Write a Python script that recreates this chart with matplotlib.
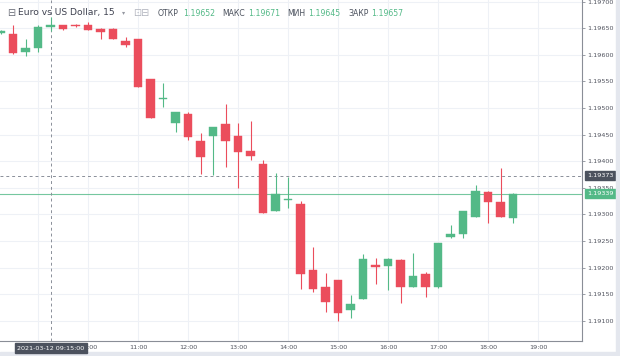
import matplotlib
matplotlib.use("Agg")
import matplotlib.pyplot as plt
from matplotlib.patches import Rectangle

times = ["08:15", "08:30", "08:45", "09:00", "09:15", "09:30", "09:45", "10:00", "10:15", "10:30",
         "10:45", "11:00", "11:15", "11:30", "11:45", "12:00", "12:15", "12:30", "12:45", "13:00",
         "13:15", "13:30", "13:45", "14:00", "14:15", "14:30", "14:45", "15:00", "15:15", "15:30",
         "15:45", "16:00", "16:15", "16:30", "16:45", "17:00", "17:15", "17:30", "17:45", "18:00",
         "18:15", "18:30"]
opens = [1.19641, 1.19639, 1.19605, 1.19613, 1.19652, 1.19656, 1.19656, 1.19656, 1.19649, 1.19649,
         1.19626, 1.19630, 1.19555, 1.19517, 1.19472, 1.19489, 1.19438, 1.19447, 1.19470, 1.19447,
         1.19419, 1.19395, 1.19307, 1.19327, 1.19320, 1.19196, 1.19164, 1.19177, 1.19120, 1.19141,
         1.19205, 1.19203, 1.19214, 1.19164, 1.19188, 1.19164, 1.19258, 1.19263, 1.19295, 1.19342,
         1.19323, 1.19293]
highs = [1.19646, 1.19656, 1.19630, 1.19656, 1.19671, 1.19657, 1.19658, 1.19662, 1.19650, 1.19651,
         1.19634, 1.19630, 1.19555, 1.19548, 1.19493, 1.19493, 1.19453, 1.19465, 1.19508, 1.19472,
         1.19476, 1.19402, 1.19378, 1.19370, 1.19325, 1.19239, 1.19190, 1.19177, 1.19149, 1.19226,
         1.19218, 1.19218, 1.19216, 1.19227, 1.19192, 1.19246, 1.19280, 1.19307, 1.19356, 1.19344,
         1.19387, 1.19340]
lows = [1.19640, 1.19602, 1.19598, 1.19605, 1.19645, 1.19647, 1.19652, 1.19647, 1.19630, 1.19629,
        1.19615, 1.19540, 1.19481, 1.19503, 1.19455, 1.19440, 1.19376, 1.19374, 1.19389, 1.19350,
        1.19402, 1.19303, 1.19307, 1.19312, 1.19160, 1.19154, 1.19117, 1.19100, 1.19105, 1.19141,
        1.19169, 1.19158, 1.19134, 1.19164, 1.19145, 1.19162, 1.19256, 1.19256, 1.19295, 1.19284,
        1.19295, 1.19284]
closes = [1.19645, 1.19604, 1.19613, 1.19652, 1.19657, 1.19649, 1.19654, 1.19647, 1.19643, 1.19630,
          1.19619, 1.19540, 1.19481, 1.19519, 1.19493, 1.19446, 1.19408, 1.19464, 1.19438, 1.19417,
          1.19410, 1.19303, 1.19339, 1.19328, 1.19188, 1.19160, 1.19136, 1.19115, 1.19132, 1.19216,
          1.19201, 1.19216, 1.19164, 1.19184, 1.19164, 1.19246, 1.19263, 1.19307, 1.19344, 1.19323,
          1.19295, 1.19339]

grid_hours = ["09:00", "10:00", "11:00", "12:00", "13:00", "14:00", "15:00", "16:00", "17:00", "18:00", "19:00"]
hour_labels = ["10:00", "11:00", "12:00", "13:00", "14:00", "15:00", "16:00", "17:00", "18:00", "19:00"]
price_ticks = [1.19100, 1.19150, 1.19200, 1.19250, 1.19300, 1.19350, 1.19400, 1.19450,
               1.19500, 1.19550, 1.19600, 1.19650, 1.19700]
last_price = 1.19339
cross_price = 1.19373
cross_time = "09:15"
cross_stamp = "2021-03-12 09:15:00"
title = "Euro vs US Dollar, 15"
ohlc_names = ["ОТКР", "МАКС", "МИН", "ЗАКР"]
ohlc_values = ["1.19652", "1.19671", "1.19645", "1.19657"]

GREEN = "#53b987"
RED = "#eb4d5c"
GRID = "#eef1f6"
TXT = "#50535e"

W, H = 620, 356
fig = plt.figure(figsize=(6.2, 3.56), dpi=100)
fig.patch.set_facecolor("white")

# grey frame strips at right and bottom
fig.patches.append(Rectangle((616 / W, 0), 4 / W, 1, transform=fig.transFigure, color="#e4e7ee", zorder=0))
fig.patches.append(Rectangle((0, 0), 1, 4 / H, transform=fig.transFigure, color="#e4e7ee", zorder=0))

ax_right = 582
ax_bottom = 341
ax = fig.add_axes([0, (H - ax_bottom) / H, ax_right / W, ax_bottom / H])

def tidx(t):
    h, m = t.split(":")
    return (int(h) * 60 + int(m) - (8 * 60 + 15)) / 15.0

xs = [tidx(t) for t in times]
bw = 0.68
for x, o, h, l, c in zip(xs, opens, highs, lows, closes):
    col = GREEN if c >= o else RED
    ax.vlines(x, l, h, color=col, lw=0.8, zorder=3)
    bot = min(o, c)
    hgt = max(abs(c - o), 0.000012)
    ax.add_patch(Rectangle((x - bw / 2, bot), bw, hgt, facecolor=col, edgecolor=col, lw=0.3, zorder=4))

ax.set_xlim(-0.05, 46.5)
ax.set_ylim(1.190622, 1.197032)

for hx in [tidx(t) for t in grid_hours]:
    ax.axvline(hx, color=GRID, lw=0.8, zorder=0)
for p in price_ticks:
    ax.axhline(p, color=GRID, lw=0.8, zorder=0)

# last price line
ax.axhline(last_price, color=GREEN, lw=0.8, alpha=0.8, zorder=2)
# crosshair
ax.axhline(cross_price, color="#8a8f99", lw=0.7, ls=(0, (3, 3)), zorder=2)
ax.axvline(tidx(cross_time), color="#8a8f99", lw=0.7, ls=(0, (3, 3)), zorder=2)

for s in ["top", "left"]:
    ax.spines[s].set_visible(False)
ax.spines["right"].set_color("#8a8e97")
ax.spines["bottom"].set_color("#8a8e97")
ax.spines["right"].set_linewidth(0.8)
ax.spines["bottom"].set_linewidth(0.8)

ax.yaxis.tick_right()
ax.set_yticks(price_ticks)
ax.set_yticklabels([f"{p:.5f}" for p in price_ticks], fontsize=4.6, color=TXT)
ax.tick_params(axis="y", length=2.5, width=0.6, color="#8a8e97", pad=1.5)
ax.set_xticks([tidx(t) for t in hour_labels])
ax.set_xticklabels(hour_labels, fontsize=4.6, color=TXT)
ax.tick_params(axis="x", length=0, pad=3)

# price boxes on axis
def price_box(price, fc):
    ax.annotate(f"{price:.5f}", xy=(1.0, price), xycoords=("axes fraction", "data"),
                xytext=(3.5, 0), textcoords="offset points", ha="left", va="center",
                fontsize=4.6, color="white", zorder=10, annotation_clip=False,
                bbox=dict(boxstyle="square,pad=0.35", fc=fc, ec=fc))

price_box(cross_price, "#4c525e")
price_box(last_price, GREEN)

# time stamp box
fig.text(51 / W, 1 - 348 / H, cross_stamp, fontsize=4.6, color="white", ha="center", va="center",
         zorder=10, bbox=dict(boxstyle="square,pad=0.35", fc="#4c525e", ec="#4c525e"))

# header
hy = 1 - 13 / H
fig.text(7 / W, hy, "⊟", fontsize=7, color="#6a6d78", ha="left", va="center")
fig.text(18 / W, hy, title, fontsize=6.6, color="#3f4250", ha="left", va="center")
fig.text(122 / W, hy, "▾", fontsize=4.5, color="#9598a1", ha="left", va="center")
fig.text(133 / W, hy, "⊡⊟", fontsize=7, color="#b2b5be", ha="left", va="center")
name_x = [158, 222, 287, 348]
val_x = [183, 248, 308, 371]
for nx, vx, n, v in zip(name_x, val_x, ohlc_names, ohlc_values):
    fig.text(nx / W, hy, n, fontsize=5.6, color="#4c525e", ha="left", va="center")
    fig.text(vx / W, hy, v, fontsize=5.6, color=GREEN, ha="left", va="center")

fig.savefig("out.png", dpi=100, facecolor=fig.get_facecolor())
